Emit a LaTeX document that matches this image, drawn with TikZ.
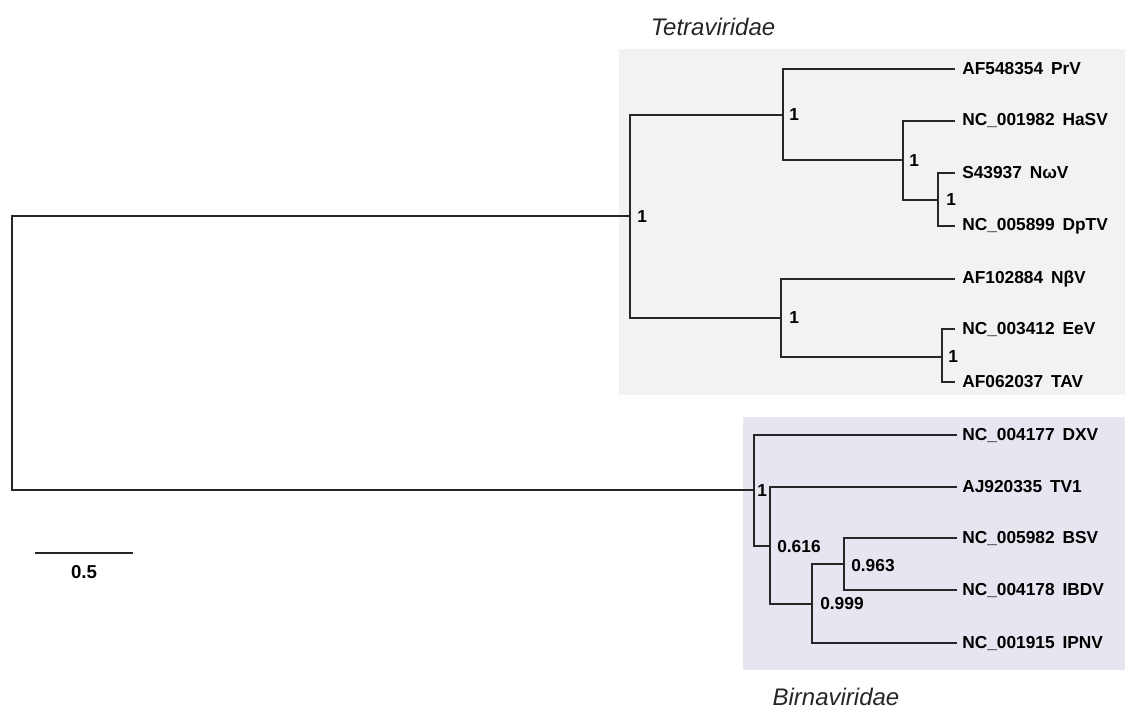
\documentclass[tikz,border=0pt]{standalone}
\usepackage{fontspec}
\setmainfont{Liberation Sans}
\begin{document}
\begin{tikzpicture}[x=0.75pt,y=-0.75pt,
  br/.style={draw=black!85, line width=1.5pt},
  leaf/.style={anchor=west, inner xsep=0pt, inner ysep=0pt, font=\bfseries\fontsize{13}{13}\selectfont},
  supp/.style={anchor=west, inner sep=0pt, font=\bfseries\fontsize{13}{13}\selectfont},
  fam/.style={font=\itshape\fontsize{18}{18}\selectfont, text=black!85, inner sep=0pt}]
\useasboundingbox (0,0) rectangle (1125,711);
\definecolor{tetbg}{HTML}{F2F2F2}
\definecolor{birbg}{HTML}{E6E6F0}
\fill[tetbg] (619,49) rectangle (1125,395);
\fill[birbg] (743,417) rectangle (1125,670);
% internal nodes
\coordinate (R) at (12,351);
\coordinate (T) at (630,216);
\coordinate (U) at (783,115);
\coordinate (H) at (903,160);
\coordinate (N) at (938,200);
\coordinate (L) at (781,318);
\coordinate (E) at (942,357);
\coordinate (B) at (754,490);
\coordinate (C) at (770,546);
\coordinate (D) at (812,604);
\coordinate (F) at (844,564);
% leaves
\newcommand{\gp}{\hspace{0.45em}}
\node[leaf] (prv)  at (955,69)  {\hspace{5.25pt}AF548354\gp PrV};
\node[leaf] (hasv) at (955,121) {\hspace{5.25pt}NC\_001982\gp HaSV};
\node[leaf] (nwv)  at (955,173) {\hspace{5.25pt}S43937\gp NωV};
\node[leaf] (dptv) at (955,226) {\hspace{5.25pt}NC\_005899\gp DpTV};
\node[leaf] (nbv)  at (955,279) {\hspace{5.25pt}AF102884\gp NβV};
\node[leaf] (eev)  at (955,329) {\hspace{5.25pt}NC\_003412\gp EeV};
\node[leaf] (tav)  at (955,382) {\hspace{5.25pt}AF062037\gp TAV};
\node[leaf] (dxv)  at (957,435) {\hspace{3.75pt}NC\_004177\gp DXV};
\node[leaf] (tv1)  at (957,487) {\hspace{3.75pt}AJ920335\gp TV1};
\node[leaf] (bsv)  at (957,538) {\hspace{3.75pt}NC\_005982\gp BSV};
\node[leaf] (ibdv) at (957,590) {\hspace{3.75pt}NC\_004178\gp IBDV};
\node[leaf] (ipnv) at (957,643) {\hspace{3.75pt}NC\_001915\gp IPNV};
% branches
\draw[br] (R) |- (T);
\draw[br] (R) |- (B);
\draw[br] (T) |- (U);
\draw[br] (T) |- (L);
\draw[br] (U) |- (prv.west);
\draw[br] (U) |- (H);
\draw[br] (H) |- (hasv.west);
\draw[br] (H) |- (N);
\draw[br] (N) |- (nwv.west);
\draw[br] (N) |- (dptv.west);
\draw[br] (L) |- (nbv.west);
\draw[br] (L) |- (E);
\draw[br] (E) |- (eev.west);
\draw[br] (E) |- (tav.west);
\draw[br] (B) |- (dxv.west);
\draw[br] (B) |- (C);
\draw[br] (C) |- (tv1.west);
\draw[br] (C) |- (D);
\draw[br] (D) |- (F);
\draw[br] (D) |- (ipnv.west);
\draw[br] (F) |- (bsv.west);
\draw[br] (F) |- (ibdv.west);
% supports
\node[supp] (sT) at (637,217) {1};
\node[supp] (sU) at (789,115) {1};
\node[supp] (sH) at (909,161) {1};
\node[supp] (sN) at (946,200) {1};
\node[supp] (sL) at (789,318) {1};
\node[supp] (sE) at (948,357) {1};
\node[supp] (sB) at (757,491) {1};
\node[supp] (sC) at (777,547) {0.616};
\node[supp] (sF) at (851,566) {0.963};
\node[supp] (sD) at (820,604) {0.999};
% scale bar
\coordinate (s1) at (35,553);
\coordinate (s2) at (133,553);
\draw[br] (s1) -- (s2);
\node[font=\bfseries\fontsize{14}{14}\selectfont, inner sep=0pt] (sl) at (84,572) {0.5};
% family names
\node[fam, anchor=base] (tet) at (713,35) {Tetraviridae};
\node[fam, anchor=base] (bir) at (836,705) {Birnaviridae};
\end{tikzpicture}
\end{document}
